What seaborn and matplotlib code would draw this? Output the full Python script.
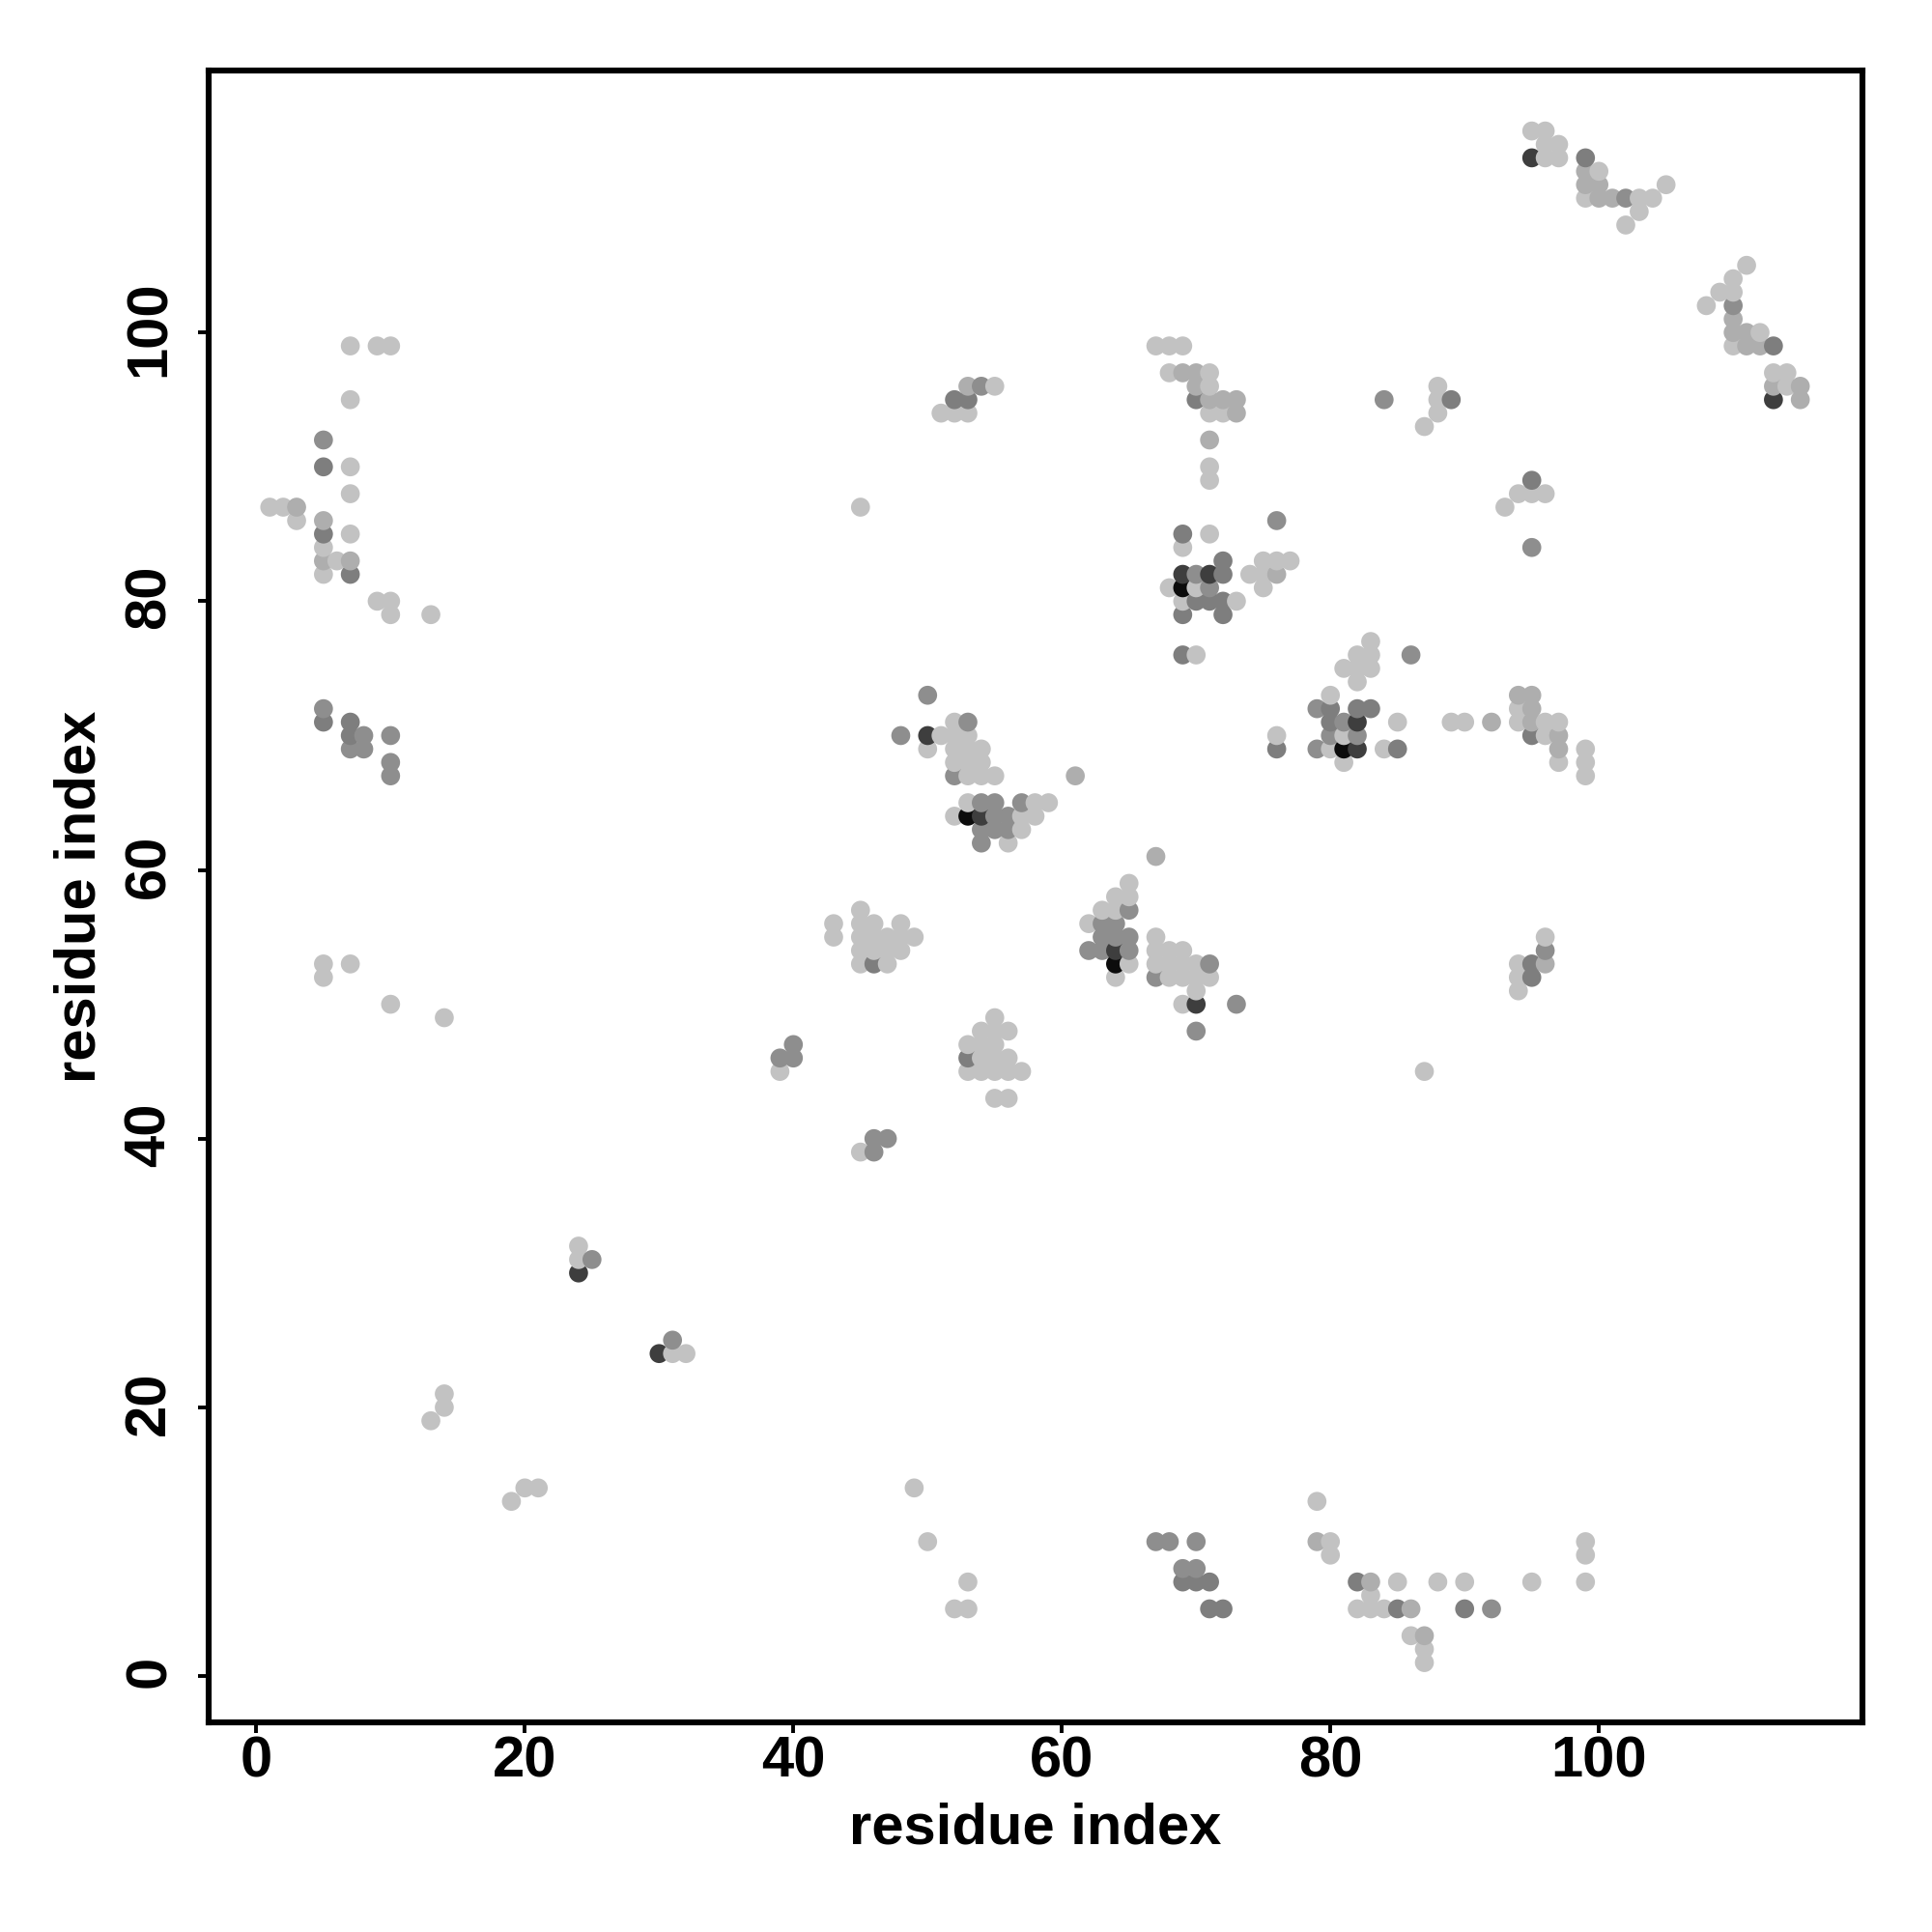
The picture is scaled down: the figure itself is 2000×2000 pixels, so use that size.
import matplotlib
matplotlib.use("Agg")
import matplotlib.pyplot as plt
import matplotlib.transforms as mtrans
import pandas as pd
import seaborn as sns

# contacts (residue i, residue j) grouped by how dark the dot is
light = [(7, 99), (9, 99), (10, 99), (7, 95), (7, 90), (7, 88), (1, 87), (2, 87), (3, 86), (7, 85), (5, 84),
         (6, 83), (5, 82), (9, 80), (10, 80), (10, 79), (13, 79), (5, 53), (5, 52), (7, 53), (10, 50), (14, 49),
         (13, 19), (14, 20), (14, 21), (19, 13), (20, 14), (21, 14), (24, 32), (24, 31), (31, 24), (32, 24),
         (39, 45), (45, 87), (45, 39), (49, 14), (50, 10), (53, 7), (52, 5), (53, 5),
         (43, 56), (43, 55), (45, 57), (45, 56), (46, 56), (48, 56), (45, 55), (46, 55), (47, 55), (48, 55),
         (49, 55), (45, 54), (46, 54), (47, 54), (48, 54), (45, 53), (47, 53),
         (55, 49), (54, 48), (55, 48), (56, 48), (53, 47), (54, 47), (55, 47), (54, 46), (55, 46), (56, 46),
         (53, 45), (54, 45), (55, 45), (56, 45), (57, 45), (55, 43), (56, 43),
         (51, 70), (50, 69), (52, 71), (52, 70), (53, 70), (52, 69), (53, 69), (54, 69), (52, 68), (53, 68),
         (54, 68), (53, 67), (54, 67), (55, 67), (53, 65), (58, 65), (59, 65), (52, 64), (57, 64), (58, 64),
         (57, 63), (56, 62),
         (65, 59), (64, 58), (65, 58), (63, 57), (64, 57), (62, 56), (65, 53), (64, 52),
         (67, 55), (67, 54), (68, 54), (69, 54), (67, 53), (68, 53), (69, 53), (70, 53), (68, 52), (69, 52),
         (70, 52), (71, 52), (70, 51), (69, 50),
         (71, 85), (69, 84), (75, 83), (76, 83), (77, 83), (74, 82), (75, 82), (68, 81), (70, 81), (75, 81),
         (69, 80), (73, 80), (70, 76), (83, 77), (82, 76), (83, 76), (81, 75), (82, 75), (83, 75), (82, 74),
         (80, 73), (85, 71), (89, 71), (90, 71), (94, 71), (76, 70), (81, 70), (80, 69), (84, 69), (81, 68),
         (94, 72), (96, 71), (97, 71), (96, 70), (97, 68), (99, 69), (99, 68), (99, 67),
         (96, 55), (94, 53), (94, 52), (94, 51), (87, 45),
         (80, 10), (80, 9), (79, 13), (85, 7), (88, 7), (90, 7), (95, 7), (99, 7), (83, 6), (82, 5), (83, 5),
         (84, 5), (86, 3), (87, 2), (87, 1), (99, 10), (99, 9),
         (95, 115), (96, 115), (96, 114), (97, 114), (96, 113), (97, 113), (100, 112), (105, 111), (99, 110),
         (103, 110), (104, 110), (103, 109), (102, 108), (111, 105), (110, 104), (109, 103), (110, 103),
         (108, 102), (112, 100), (110, 99), (113, 97), (114, 97), (114, 96),
         (51, 94), (52, 94), (53, 94), (55, 96), (67, 99), (68, 99), (69, 99), (68, 97), (71, 97), (71, 96),
         (71, 94), (72, 94), (71, 90), (71, 89), (87, 93), (88, 94), (88, 95), (88, 96),
         (93, 87), (94, 88), (95, 88), (96, 88)]
pale = [(3, 87), (5, 83), (7, 83), (5, 86), (61, 67), (67, 61), (76, 82), (92, 71), (94, 73), (95, 73), (95, 72),
        (95, 71), (97, 70), (97, 69), (96, 53), (79, 10), (83, 7), (86, 5), (87, 3), (99, 112), (99, 111),
        (100, 111), (100, 110), (101, 110), (110, 101), (110, 100), (111, 100), (111, 99), (112, 99), (113, 96),
        (115, 96), (115, 95), (53, 96), (69, 97), (70, 97), (70, 96), (71, 95), (72, 95), (73, 95), (73, 94),
        (71, 92)]
mid = [(5, 92), (5, 72), (8, 70), (7, 69), (8, 69), (10, 70), (10, 68), (10, 67), (25, 31), (31, 25), (39, 46),
       (40, 47), (40, 46), (46, 40), (46, 39), (47, 40), (50, 73), (48, 70), (53, 71), (52, 67), (55, 65),
       (57, 65), (55, 64), (56, 64), (54, 63), (55, 63), (56, 63), (54, 62), (65, 57), (63, 56), (64, 56),
       (63, 55), (64, 55), (65, 55), (62, 54), (63, 54), (65, 54), (71, 53), (67, 52), (73, 50), (70, 48),
       (76, 86), (70, 82), (71, 81), (86, 76), (79, 72), (81, 71), (82, 70), (79, 69), (80, 70), (67, 10),
       (68, 10), (70, 10), (69, 8), (70, 8), (92, 5), (96, 54), (102, 110), (110, 102), (54, 96), (84, 95),
       (95, 84), (54, 65)]
dark = [(5, 90), (5, 85), (7, 82), (5, 71), (7, 71), (7, 70), (46, 53), (53, 46), (69, 85), (72, 83), (72, 82),
        (70, 80), (71, 80), (72, 80), (69, 79), (72, 79), (69, 76), (80, 72), (82, 72), (83, 72), (80, 71),
        (76, 69), (85, 69), (95, 70), (95, 89), (95, 53), (95, 52), (69, 7), (70, 7), (71, 7), (71, 5), (72, 5),
        (82, 7), (85, 5), (90, 5), (99, 113), (113, 99), (52, 95), (53, 95), (70, 95), (89, 95)]
darker = [(30, 24), (24, 30), (50, 70), (54, 64), (64, 54), (70, 50), (69, 82), (71, 82), (82, 71), (82, 69),
          (95, 113), (113, 95)]
black = [(53, 64), (64, 53), (69, 81), (81, 69)]

shades = {"light": "#C2C2C2", "pale": "#AEAEAE", "mid": "#8E8E8E", "dark": "#7E7E7E",
          "darker": "#3E3E3E", "black": "#0C0C0C"}
groups = {"light": light, "pale": pale, "mid": mid, "dark": dark, "darker": darker, "black": black}
tick_values = [0, 20, 40, 60, 80, 100]

rows = []
for name in groups:
    for p in groups[name]:
        rows.append((p[0], p[1], name))
data = pd.DataFrame(rows, columns=["i", "j", "shade"])
# later residues sit on top of earlier ones
data = data.sort_values(["i", "j"], kind="stable")

sns.set_theme(style="ticks")
plt.rcParams["font.family"] = ["Liberation Sans", "DejaVu Sans"]
plt.rcParams["font.weight"] = "bold"

fig = plt.figure(figsize=(10, 10), dpi=200)
ax = fig.add_axes([0.1078, 0.1085, 0.8560, 0.8550])
sns.scatterplot(data=data, x="i", y="j", hue="shade", palette=shades, s=50, linewidth=0, legend=False, ax=ax)

ax.set_xlim(-3.58, 119.6)
ax.set_ylim(-3.45, 119.5)
ax.set_xticks(tick_values)
ax.set_yticks(tick_values)
ax.tick_params(axis="both", length=4, width=1.4, labelsize=21.5, color="black", labelcolor="black")
ax.tick_params(axis="x", pad=0.8)
ax.tick_params(axis="y", pad=7.8)
plt.setp(ax.get_yticklabels(), rotation=90, va="center")
# nudge the rotated labels up a little, they sit above their ticks in the original
nudge = mtrans.ScaledTranslation(0, 1.5 / 72, fig.dpi_scale_trans)
for label in ax.get_yticklabels():
    label.set_transform(label.get_transform() + nudge)
ax.set_xlabel("residue index", fontsize=21.5, fontweight="bold", color="black", labelpad=5)
ax.set_ylabel("residue index", fontsize=21.5, fontweight="bold", color="black", labelpad=6.2)
for s in ax.spines.values():
    s.set_linewidth(2.2)
    s.set_color("black")

plt.savefig("out.png", dpi=200)
